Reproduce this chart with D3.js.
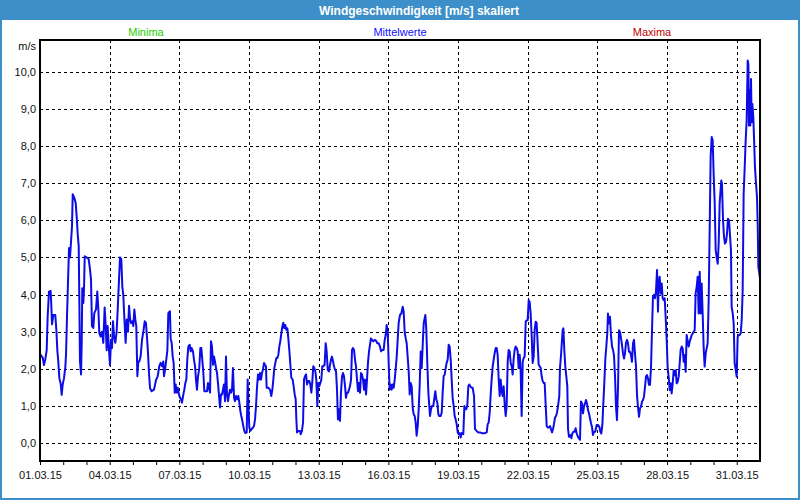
<!DOCTYPE html>
<html><head><meta charset="utf-8">
<script src="https://cdn.jsdelivr.net/npm/d3@7"></script>
<style>html,body{margin:0;padding:0;background:#fff}svg{display:block}</style>
</head><body><svg id="c" width="800" height="500"></svg>
<script>
const chartTitle = "Windgeschwindigkeit [m/s] skaliert";
const legendLabels = ["Minima", "Mittelwerte", "Maxima"];
const legendColors = ["#22cc00", "#1010ff", "#c00000"];
const unitLabel = "m/s";
const startDate = Date.UTC(2015, 2, 1);
const endDate = Date.UTC(2015, 3, 1);
const yTicks = [0, 1, 2, 3, 4, 5, 6, 7, 8, 9, 10];
const labelEveryDays = 3;
// [hours since 01.03.15 00:00, mean wind speed m/s]
const meanSeries = [
[0,2.4],[2.8,2.3],[4.1,2.1],[5.5,2.26],[6.9,2.5],[7.9,3.4],[9.3,4.08],[11.0,4.1],[11.7,3.7],[12.4,3.2],[13.8,3.45],[15.8,3.45],[16.9,3.05],[17.9,2.5],[18.9,2.2],[20.0,1.75],[21.4,1.6],[22.4,1.3],[23.4,1.57],[24.8,1.75],[26.2,2.05],[26.9,2.4],[27.9,3.4],[28.9,4.3],[30.0,5.25],[31.0,5.0],[32.0,5.4],[33.1,5.85],[33.8,6.7],[35.5,6.6],[36.9,6.46],[37.9,6.1],[38.9,5.65],[40.0,5.3],[40.6,3.95],[41.3,2.2],[42.4,1.85],[43.1,2.7],[43.7,4.17],[44.8,3.77],[45.5,4.17],[46.2,5.03],[48.2,5.0],[50.3,4.95],[51.7,4.67],[52.7,4.4],[53.7,3.15],[55.1,3.1],[56.1,3.5],[57.9,3.6],[59.2,4.08],[60.3,3.6],[61.3,2.96],[62.7,2.87],[64.1,3.0],[65.4,2.7],[66.8,3.65],[67.9,3.15],[68.9,2.5],[69.9,3.15],[71.3,2.5],[72.3,2.1],[73.4,2.78],[74.4,2.56],[75.4,3.28],[76.5,2.87],[77.8,2.7],[79.2,3.0],[80.3,3.6],[81.3,4.2],[82.7,5.0],[84.0,4.95],[85.1,4.2],[86.1,3.98],[87.1,3.4],[88.5,2.7],[89.6,3.33],[90.9,3.0],[92.0,3.7],[93.0,3.36],[94.0,3.23],[95.4,3.28],[96.4,3.15],[97.5,3.6],[98.5,3.33],[99.5,3.15],[100.6,1.8],[101.6,2.2],[102.6,2.2],[104.0,2.34],[105.4,2.78],[106.8,3.0],[108.2,3.28],[109.5,3.23],[110.6,2.83],[111.6,2.43],[112.6,1.9],[113.7,1.48],[115.4,1.4],[117.8,1.44],[119.9,1.7],[121.6,1.8],[123.3,2.07],[124.7,2.16],[126.1,2.07],[127.4,2.2],[128.1,1.8],[129.2,1.98],[130.5,2.25],[131.6,2.5],[132.6,3.5],[134.3,3.55],
[135.0,2.82],[136.1,2.69],[137.1,2.33],[138.1,2.16],[139.2,1.36],[140.2,1.58],[141.2,1.36],[142.3,1.49],[143.6,1.31],[144.7,1.22],[145.7,1.18],[146.7,1.09],[148.1,1.31],[149.1,1.44],[150.2,1.62],[151.2,1.71],[152.2,2.25],[153.3,2.6],[154.7,2.65],[155.7,2.47],[156.7,2.56],[158.1,2.47],[159.1,2.25],[160.2,2.07],[161.2,1.71],[162.2,1.44],[163.3,1.8],[164.6,2.02],[165.7,2.56],[166.7,2.56],[167.7,2.25],[168.8,1.89],[169.8,1.4],[171.2,1.4],[172.6,1.4],[173.6,1.62],[174.6,1.49],[175.7,1.36],[176.7,2.74],[177.7,2.6],[178.8,2.11],[179.8,2.33],[180.8,2.2],[181.9,2.02],[182.9,1.89],[183.9,1.62],[185.0,1.27],[186.0,0.96],[187.0,1.31],[188.1,1.31],[189.1,1.44],[190.1,1.58],[191.2,1.13],[192.2,2.33],[193.2,1.31],[194.3,1.13],[195.3,1.31],[196.3,1.44],[197.4,1.36],[198.4,1.44],[199.4,2.02],[200.5,1.22],[201.5,1.13],[202.5,1.27],[203.9,1.18],[204.9,1.27],[206.0,1.09],[207.0,0.87],[208.0,0.73],[209.1,0.6],[210.1,0.46],[211.1,0.33],[212.2,0.27],[213.6,0.29],[214.6,1.71],[215.6,0.87],[216.3,0.42],[217.3,0.33],[218.7,0.38],[220.1,0.42],[221.1,0.46],[222.2,0.64],[223.2,1.0],[224.2,1.49],[225.3,1.85],[226.3,1.71],[227.3,1.89],[228.4,1.71],[229.4,1.89],[230.4,1.98],[231.5,2.16],[232.5,2.11],[233.5,2.07],[234.2,1.49],[235.9,1.49],[237.7,1.44],[239.0,1.27],[240.1,1.44],[241.1,1.71],[242.1,2.02],[243.2,2.16],[244.2,2.29],[245.2,2.29],[246.3,2.38],[247.3,2.6],[248.3,2.74],[249.4,2.96],[250.4,3.14],[251.4,3.24],[252.5,3.09],[253.5,3.18],[254.5,3.05],[255.6,3.09],[256.6,2.82],[257.6,2.51],[258.7,2.11],[259.7,1.76],[261.1,1.71],[262.1,1.53],[263.2,1.31],[264.2,1.18],[264.9,0.64],[265.6,0.29],[266.9,0.33],[268.7,0.33],
[269.4,0.24],[270.7,0.33],[271.8,0.55],[272.8,1.71],[273.8,1.8],[274.9,1.85],[275.9,1.58],[276.9,1.67],[278.3,1.67],[279.3,1.58],[280.4,1.36],[281.4,1.67],[282.4,2.07],[283.5,2.02],[284.5,1.93],[285.5,1.71],[286.6,1.0],[287.6,1.62],[288.6,1.53],[289.7,1.62],[290.7,1.71],[291.7,2.07],[292.8,2.07],[294.1,2.11],[295.2,2.69],[296.2,2.47],[297.3,1.98],[298.6,1.93],[299.7,2.11],[300.7,2.25],[301.7,2.33],[302.8,2.2],[303.8,2.07],[304.8,1.98],[305.9,1.93],[306.9,1.44],[307.9,0.64],[309.0,0.91],[310.0,0.6],[311.0,1.36],[312.1,1.8],[313.1,1.89],[314.1,1.8],[315.2,1.53],[316.2,1.22],[317.2,1.36],[318.3,1.36],[319.3,1.44],[320.3,1.53],[321.4,1.71],[322.4,2.51],[323.4,2.56],[324.5,2.51],[325.5,2.25],[326.5,2.07],[327.6,1.71],[328.6,1.4],[329.6,1.62],[330.7,1.36],[331.7,1.89],[332.7,1.85],[333.8,1.71],[334.8,1.44],[335.8,1.71],[336.9,1.31],[337.9,1.71],[338.9,2.16],[340.0,2.47],[341.0,2.65],[342.0,2.82],[343.1,2.78],[344.4,2.74],[345.8,2.78],[347.2,2.76],[348.6,2.69],[349.9,2.69],[351.3,2.6],[352.4,2.47],[353.7,2.51],[355.1,2.51],[356.2,2.78],[357.2,2.91],[358.2,3.18],[359.3,3.0],[360.3,2.16],[361.3,1.44],[362.4,1.58],[363.4,1.44],[364.4,1.58],[365.5,1.49],[366.5,1.71],[367.5,1.98],[368.6,2.33],[369.6,2.78],[370.6,3.23],[372.0,3.45],[373.4,3.49],[374.8,3.67],[375.8,3.54],[376.8,3.0],[377.9,2.82],[378.9,2.69],[379.9,2.33],[381.0,1.93],[382.0,1.31],[383.0,1.62],[384.1,1.53],[385.1,0.96],[386.1,0.78],[387.2,0.73],[388.2,0.55],[389.2,0.2],[390.3,0.46],[391.3,0.91],[392.3,1.53],[393.4,2.47],[394.4,2.02],[395.4,2.6],[396.5,3.23],[397.5,3.36],[398.2,3.45],[399.2,3.05],[400.2,2.16],[401.3,1.36],[403.0,0.73],
[404.0,0.91],[405.1,1.0],[406.4,1.0],[407.5,1.22],[408.5,1.4],[409.5,1.18],[410.6,1.09],[411.6,0.78],[412.6,0.73],[414.0,0.73],[415.1,0.82],[416.1,1.36],[417.1,1.8],[418.2,1.85],[419.2,2.02],[420.2,2.16],[421.3,2.25],[422.3,2.65],[423.3,2.6],[424.4,2.25],[425.4,1.71],[426.4,1.22],[427.5,1.0],[428.5,0.73],[429.5,0.64],[430.6,0.51],[431.6,0.29],[432.6,0.24],[433.7,0.27],[434.7,0.15],[435.7,0.27],[437.4,0.24],[438.5,1.0],[439.5,0.91],[440.5,0.91],[441.6,1.04],[442.6,1.53],[443.6,1.58],[444.7,1.53],[446.1,1.49],[447.1,1.49],[448.5,1.27],[449.5,0.38],[451.2,0.33],[453.0,0.29],[454.7,0.29],[456.4,0.27],[458.1,0.27],[459.8,0.27],[461.6,0.29],[462.6,0.51],[463.6,0.55],[464.7,0.82],[465.7,1.31],[466.7,1.71],[467.8,2.07],[468.8,2.25],[469.8,2.42],[470.9,2.56],[471.9,2.56],[472.9,2.38],[474.0,1.71],[475.0,1.27],[476.0,1.71],[477.1,1.4],[478.1,1.27],[479.1,1.53],[480.2,1.04],[481.2,0.73],[482.2,1.0],[483.3,2.2],[484.3,2.51],[485.3,2.47],[486.4,2.16],[487.4,2.07],[488.4,1.85],[489.5,2.29],[490.5,2.51],[491.5,2.6],[492.6,2.56],[493.6,2.47],[494.6,2.02],[495.7,2.38],[496.7,1.93],[497.7,0.73],[498.8,2.2],[499.8,2.29],[500.8,2.33],[501.9,3.27],[502.9,3.31],[503.9,3.31],[505.0,3.85],[506.0,3.8],[507.0,3.49],[508.1,2.87],[509.1,2.16],[510.1,2.33],[511.2,3.05],[512.2,3.27],[513.2,3.23],[514.3,2.65],[515.3,2.11],[516.3,2.07],[517.4,2.02],[518.4,1.8],[519.4,1.67],[520.5,1.62],[521.5,1.62],[522.5,1.04],[523.6,0.46],[524.6,0.42],[525.6,0.42],[527.0,0.46],[528.0,0.38],[529.1,0.29],[530.1,0.38],[531.1,0.51],[532.2,0.69],[533.2,0.73],[534.2,0.82],[535.3,1.0],[536.6,1.27],[537.3,2.02],
[538.4,2.37],[539.4,2.78],[540.1,3.04],[540.8,3.09],[541.8,2.51],[542.8,2.06],[543.9,1.79],[544.9,1.52],[545.6,0.4],[546.6,0.17],[548.0,0.22],[549.0,0.13],[550.1,0.26],[551.1,0.31],[552.5,0.31],[553.5,0.4],[554.6,0.26],[555.9,0.17],[557.0,0.13],[558.0,0.09],[559.0,1.12],[560.1,1.07],[561.1,0.8],[562.1,0.98],[563.2,1.07],[564.2,1.16],[565.2,1.07],[566.3,0.89],[567.3,0.8],[568.3,0.67],[569.4,0.53],[570.4,0.44],[571.4,0.22],[572.5,0.31],[573.8,0.31],[575.2,0.49],[576.6,0.49],[578.0,0.44],[579.0,0.31],[580.0,0.26],[581.1,0.49],[582.1,1.07],[583.1,1.61],[584.2,2.28],[585.2,2.6],[586.2,2.96],[586.9,3.49],[588.0,3.22],[589.0,3.4],[590.0,2.91],[591.1,2.6],[592.1,2.51],[593.1,2.37],[594.2,1.79],[595.2,0.98],[596.2,0.62],[597.3,1.52],[598.3,3.04],[599.3,3.0],[600.4,2.82],[601.4,2.64],[602.4,2.42],[603.5,2.28],[604.5,2.42],[605.5,2.69],[606.6,2.78],[607.6,2.69],[608.6,2.46],[609.7,2.46],[610.7,2.37],[611.7,2.19],[612.8,2.69],[613.8,2.78],[614.8,2.42],[615.9,2.06],[616.9,1.3],[617.9,0.98],[619.0,0.71],[620.0,0.94],[621.0,0.98],[622.1,1.12],[623.1,1.16],[624.1,1.25],[625.2,1.52],[626.2,1.79],[627.2,1.83],[628.3,1.74],[629.3,1.57],[630.3,1.57],[631.4,2.06],[632.4,3.04],[633.4,3.94],[634.5,3.99],[635.5,3.9],[636.5,4.08],[637.6,4.66],[638.6,3.54],[639.3,4.3],[640.3,4.48],[641.4,4.03],[642.4,4.3],[643.4,3.9],[644.5,3.85],[645.5,3.9],[646.5,3.4],[647.6,2.78],[648.6,2.01],[649.6,1.79],[650.7,1.43],[651.7,1.61],[652.7,1.34],[653.8,1.61],[654.8,1.96],[655.8,1.83],[656.9,1.96],[657.9,1.61],[658.9,1.65],[660.0,1.79],[661.0,2.15],[662.0,2.51],[663.1,2.6],[664.1,2.55],[665.1,2.19],[666.2,2.37],[667.2,1.92],[668.2,2.91],
[670.3,2.6],[671.3,2.73],[672.4,2.82],[673.4,2.91],[674.4,2.95],[675.5,3.0],[676.5,3.04],[677.5,4.03],[678.6,4.21],[679.6,4.48],[680.6,3.49],[681.7,4.61],[682.7,3.49],[683.7,4.3],[684.8,3.45],[685.8,2.55],[686.8,2.06],[687.9,2.42],[688.9,2.55],[689.9,2.69],[691.0,3.89],[692.0,5.77],[693.0,7.7],[694.1,8.24],[695.1,8.15],[696.1,7.25],[697.2,6.45],[698.2,5.19],[699.2,5.01],[700.3,4.83],[701.3,5.37],[702.3,6.45],[703.0,6.71],[704.0,7.07],[704.7,6.98],[705.8,6.0],[706.8,5.55],[707.8,5.37],[708.9,5.42],[709.9,5.64],[710.9,6.04],[712.0,6.0],[713.0,5.6],[714.0,5.19],[714.7,3.67],[715.8,3.49],[716.8,3.22],[717.8,2.15],[718.9,1.97],[719.9,1.79],[720.9,2.86],[722.0,2.91],[723.0,2.91],[724.0,2.95],[725.1,3.31],[726.1,4.12],[727.1,6.71],[728.2,7.43],[729.2,8.15],[730.2,8.68],[731.3,10.3],[732.0,10.2],[732.6,8.55],[733.3,9.49],[734.0,8.55],[734.7,9.8],[735.4,8.64],[736.1,9.13],[737.1,8.77],[737.8,8.24],[738.8,7.43],[739.9,6.98],[740.9,6.63],[741.6,5.91],[742.3,4.74],[743.3,4.57],[744.0,4.43]
];

const svg = d3.select("#c");
const W = 800, H = 500;
const frameColor = "#3c8fc8";
const plotL = 40, plotR = 760, plotT = 40, plotB = 461;
const fontFam = "'Liberation Sans', Arial, sans-serif";

svg.append("rect").attr("width", W).attr("height", H).attr("fill", "#fff");
svg.append("rect").attr("x", 0).attr("y", 0).attr("width", W).attr("height", 20).attr("fill", frameColor);
svg.append("rect").attr("x", 1).attr("y", 1).attr("width", W - 2).attr("height", H - 2)
  .attr("fill", "none").attr("stroke", frameColor).attr("stroke-width", 2);
svg.append("text").attr("x", 419).attr("y", 14.5).attr("text-anchor", "middle")
  .attr("fill", "#fff").attr("font-family", fontFam).attr("font-weight", "bold").attr("font-size", 12)
  .text(chartTitle);

const legendX = [146, 400, 652];
legendLabels.forEach((t, i) => {
  svg.append("text").attr("x", legendX[i]).attr("y", 35.5).attr("text-anchor", "middle")
    .attr("fill", legendColors[i]).attr("font-family", fontFam).attr("font-size", 11).text(t);
});

const x = d3.scaleUtc().domain([new Date(startDate), new Date(endDate)]).range([plotL, plotR]);
const y = d3.scaleLinear().domain([-0.48, 10.85]).range([plotB, plotT]);
const hourDate = h => new Date(startDate + h * 3600000);

const days = d3.utcDay.range(new Date(startDate), new Date(endDate));
const majorDays = days.filter((d, i) => i % labelEveryDays === 0);
const fmt = d3.utcFormat("%d.%m.%y");

// grid
const grid = svg.append("g").attr("stroke", "#000").attr("stroke-width", 1).attr("stroke-dasharray", "3,3");
yTicks.forEach(v => {
  const yy = Math.round(y(v)) + 0.5;
  grid.append("line").attr("x1", plotL).attr("x2", plotR).attr("y1", yy).attr("y2", yy);
});
majorDays.slice(1).forEach(d => {
  const xx = Math.round(x(d)) + 0.5;
  grid.append("line").attr("x1", xx).attr("x2", xx).attr("y1", plotT).attr("y2", plotB);
});

// line
svg.append("clipPath").attr("id", "clip").append("rect")
  .attr("x", plotL).attr("y", plotT).attr("width", plotR - plotL).attr("height", plotB - plotT);
const line = d3.line().x(d => x(hourDate(d[0]))).y(d => y(d[1]));
svg.append("path").datum(meanSeries).attr("clip-path", "url(#clip)")
  .attr("fill", "none").attr("stroke", "#0c0ce8").attr("stroke-width", 2)
  .attr("stroke-linejoin", "round").attr("d", line);

// axes
const xAxis = d3.axisBottom(x).tickValues(days).tickSize(4).tickPadding(6)
  .tickFormat(d => majorDays.some(m => +m === +d) ? fmt(d) : "");
const gx = svg.append("g").attr("transform", `translate(0,${plotB})`).call(xAxis);
gx.select(".domain").remove();
gx.selectAll("line").attr("stroke", "#000").attr("stroke-width", 1);
gx.selectAll("text").attr("font-family", fontFam).attr("font-size", 11).attr("fill", "#111");

const yAxis = d3.axisLeft(y).tickValues(yTicks).tickSize(0).tickPadding(4)
  .tickFormat(d => d.toFixed(1).replace(".", ","));
const gy = svg.append("g").attr("transform", `translate(${plotL},0)`).call(yAxis);
gy.select(".domain").remove();
gy.selectAll("text").attr("font-family", fontFam).attr("font-size", 11).attr("fill", "#111");

svg.append("text").attr("x", 36).attr("y", 50).attr("text-anchor", "end")
  .attr("font-family", fontFam).attr("font-size", 11).attr("fill", "#111").text(unitLabel);

// frame
svg.append("path").attr("fill", "none").attr("stroke", "#000").attr("stroke-width", 2)
  .attr("d", `M${plotL},${plotT}H${plotR}V${plotB}H${plotL}Z`);
</script></body></html>
